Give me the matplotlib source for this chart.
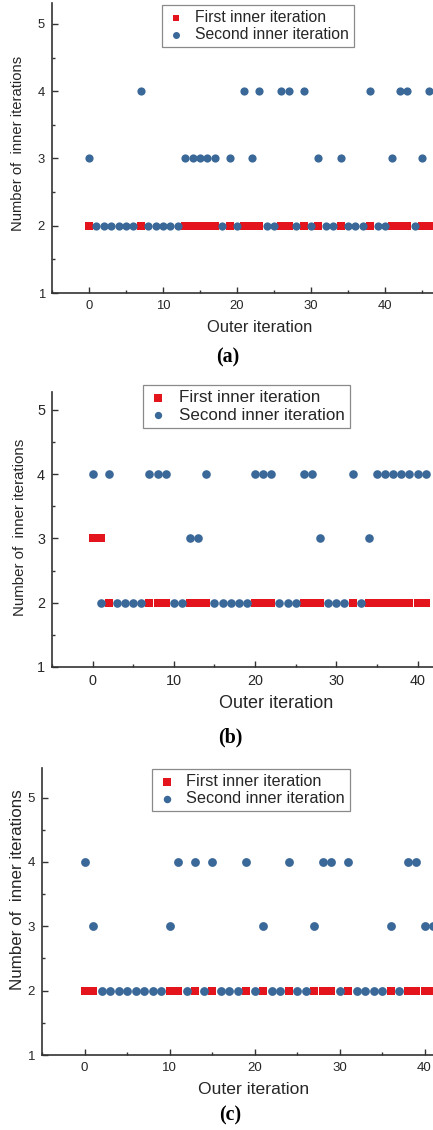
import matplotlib
matplotlib.use("Agg")
import matplotlib.pyplot as plt
from matplotlib.ticker import MultipleLocator

# ---------------- data ----------------
# (a)
a_first_x = [0, 7, 13, 14, 15, 16, 17, 19, 21, 22, 23, 26, 27, 29, 31, 34,
             38, 41, 42, 43, 45, 46]
a_first_y = [2, 2, 2, 2, 2, 2, 2, 2, 2, 2, 2, 2, 2, 2, 2, 2,
             2, 2, 2, 2, 2, 2]
a_second_x = list(range(47))
a_second_y = [3, 2, 2, 2, 2, 2, 2, 4, 2, 2,
              2, 2, 2, 3, 3, 3, 3, 3, 2, 3,
              2, 4, 3, 4, 2, 2, 4, 4, 2, 4,
              2, 3, 2, 2, 3, 2, 2, 2, 4, 2,
              2, 3, 4, 4, 2, 3, 4]

# (b)
b_first_x = [0, 1, 2, 7, 8, 9, 12, 13, 14, 20, 21, 22, 26, 27, 28, 32,
             34, 35, 36, 37, 38, 39, 40, 41]
b_first_y = [3, 3, 2, 2, 2, 2, 2, 2, 2, 2, 2, 2, 2, 2, 2, 2,
             2, 2, 2, 2, 2, 2, 2, 2]
b_second_x = list(range(42))
b_second_y = [4, 2, 4, 2, 2, 2, 2, 4, 4, 4,
              2, 2, 3, 3, 4, 2, 2, 2, 2, 2,
              4, 4, 4, 2, 2, 2, 4, 4, 3, 2,
              2, 2, 4, 2, 3, 4, 4, 4, 4, 4,
              4, 4]

# (c)
c_first_x = [0, 1, 10, 11, 13, 15, 19, 21, 24, 27, 28, 29, 31, 36, 38, 39,
             40, 41]
c_first_y = [2, 2, 2, 2, 2, 2, 2, 2, 2, 2, 2, 2, 2, 2, 2, 2,
             2, 2]
c_second_x = list(range(42))
c_second_y = [4, 3, 2, 2, 2, 2, 2, 2, 2, 2,
              3, 4, 2, 4, 2, 4, 2, 2, 2, 4,
              2, 3, 2, 2, 4, 2, 2, 3, 4, 4,
              2, 4, 2, 2, 2, 2, 3, 2, 4, 4,
              3, 3]

y_ticks = [1, 2, 3, 4, 5]
x_ticks = [0, 10, 20, 30, 40]
captions = ["(a)", "(b)", "(c)"]
legend_labels = ["First inner iteration", "Second inner iteration"]
xlabel = "Outer iteration"
ylabel = "Number of  inner iterations"

RED = "#E3141C"
BLUE = "#3A6898"
TXT = "#262626"

W, H = 433, 1130
DPI = 100
fig = plt.figure(figsize=(W / DPI, H / DPI), dpi=DPI)
plt.rcParams['font.family'] = ['Liberation Sans', 'DejaVu Sans']


def px_rect(L, R, T, B):
    return [L / W, 1 - B / H, (R - L) / W, (B - T) / H]


def pt(px):
    return px * 72.0 / DPI


panels = [
    dict(fx=a_first_x, fy=a_first_y, sx=a_second_x, sy=a_second_y,
         rect=(52, 433, 3, 293), xr=(-5, 46.49), yr=(1, 5.31),
         sq=7.6, circ=8.2, tick=13.0, xl=16.5, yl=14.7, lg=15.8,
         leg=(162, 5), xlab=(260, 327), ylab=(18, 143), cap=(228, 357)),
    dict(fx=b_first_x, fy=b_first_y, sx=b_second_x, sy=b_second_y,
         rect=(52, 433, 392, 667), xr=(-5, 41.9), yr=(1, 5.28),
         sq=8.3, circ=8.6, tick=14.4, xl=18.0, yl=15.0, lg=17.0,
         leg=(143, 385), xlab=(276, 703), ylab=(20, 527), cap=(230, 737)),
    dict(fx=c_first_x, fy=c_first_y, sx=c_second_x, sy=c_second_y,
         rect=(42, 433, 768, 1055), xr=(-5, 41.0), yr=(1, 5.46),
         sq=8.6, circ=8.8, tick=13.3, xl=17.5, yl=17.0, lg=16.3,
         leg=(152, 769), xlab=(254, 1089), ylab=(18, 890), cap=(230, 1115)),
]

for i, p in enumerate(panels):
    L, R, T, B = p['rect']
    ax = fig.add_axes(px_rect(L, R, T, B))
    ax.set_xlim(*p['xr'])
    ax.set_ylim(*p['yr'])
    ax.scatter(p['fx'], p['fy'], marker='s', s=pt(p['sq']) ** 2,
               color=RED, linewidths=0, zorder=3, clip_on=True,
               label=legend_labels[0])
    ax.scatter(p['sx'], p['sy'], marker='o', s=pt(p['circ']) ** 2,
               color=BLUE, linewidths=0, zorder=4, clip_on=True,
               label=legend_labels[1])
    for side in ['top', 'right']:
        ax.spines[side].set_visible(False)
    for side in ['left', 'bottom']:
        ax.spines[side].set_color('#333333')
        ax.spines[side].set_linewidth(1.2)
    ax.set_xticks(x_ticks)
    ax.set_yticks(y_ticks)
    ax.xaxis.set_minor_locator(MultipleLocator(5))
    ax.yaxis.set_minor_locator(MultipleLocator(0.5))
    ax.tick_params(which='major', direction='in', length=4, width=1,
                   colors='#333333', labelsize=pt(p['tick']),
                   labelcolor=TXT, pad=5)
    ax.tick_params(which='minor', direction='in', length=2.5, width=1,
                   colors='#333333')
    ax.set_xlabel(xlabel, fontsize=pt(p['xl']), color=TXT)
    ax.set_ylabel(ylabel, fontsize=pt(p['yl']), color=TXT)
    ax.xaxis.set_label_coords((p['xlab'][0] - L) / (R - L),
                              (B - p['xlab'][1]) / (B - T))
    ax.xaxis.label.set_va('center')
    ax.yaxis.set_label_coords((p['ylab'][0] - L) / (R - L),
                              (B - p['ylab'][1]) / (B - T))
    ax.yaxis.label.set_va('center')
    lx, ly = p['leg']
    leg = ax.legend(loc='upper left',
                    bbox_to_anchor=((lx - L) / (R - L), (B - ly) / (B - T)),
                    borderaxespad=0, fontsize=pt(p['lg']), frameon=True,
                    fancybox=False, edgecolor='#8a8a8a', framealpha=1,
                    handletextpad=0.6, borderpad=0.3, labelspacing=0.15,
                    handlelength=1.2, markerscale=0.85)
    leg.get_frame().set_linewidth(0.9)
    for t in leg.get_texts():
        t.set_color(TXT)
    cx, cy = p['cap']
    fig.text(cx / W, 1 - cy / H, captions[i], ha='center', va='center',
             fontsize=pt(20), fontweight='bold',
             family=['Liberation Serif', 'DejaVu Serif'], color='black')

fig.savefig("out.png", dpi=DPI)
